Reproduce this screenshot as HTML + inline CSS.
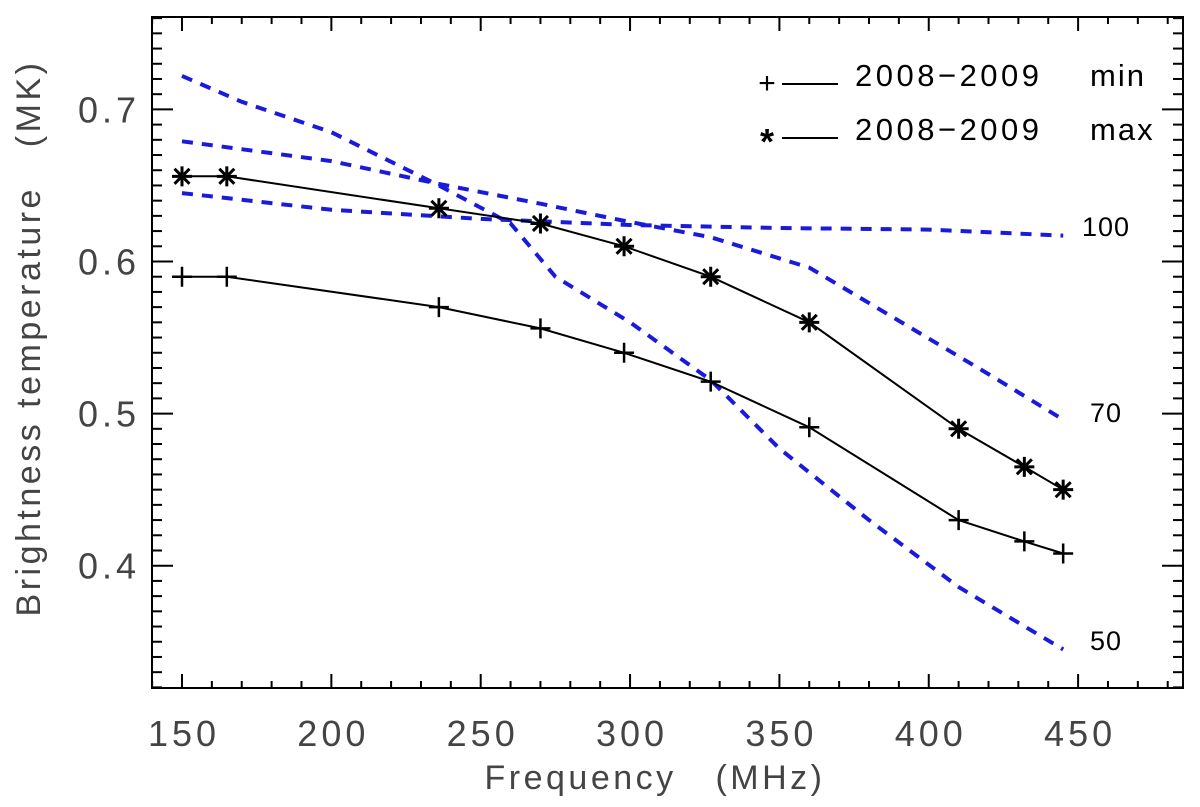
<!DOCTYPE html>
<html><head><meta charset="utf-8"><style>
body{margin:0;background:#fff}
svg{display:block}
</style></head><body>
<svg id="chart" width="1200" height="807" viewBox="0 0 1200 807" xmlns="http://www.w3.org/2000/svg" font-family="Liberation Sans, sans-serif">
<g id="axes"></g>
<g id="series"></g>
<g id="legend">
  <text x="767" y="93" font-size="30" text-anchor="middle">+</text>
  <line x1="782" y1="84" x2="838" y2="84" stroke="#000" stroke-width="2"/>
  <text x="855" y="86" font-size="31" letter-spacing="3.5">2008−2009</text>
  <text x="1090" y="86" font-size="31" letter-spacing="2">min</text>
  <text x="767" y="154" font-size="36" text-anchor="middle" font-weight="bold">*</text>
  <line x1="782" y1="138" x2="838" y2="138" stroke="#000" stroke-width="2"/>
  <text x="855" y="140" font-size="31" letter-spacing="3.5">2008−2009</text>
  <text x="1090" y="140" font-size="31" letter-spacing="2">max</text>
</g>
<text x="1082" y="236" font-size="27" letter-spacing="1">100</text>
<text x="1090" y="422" font-size="27" letter-spacing="1">70</text>
<text x="1090" y="650" font-size="27" letter-spacing="1">50</text>
<text x="655" y="789" font-size="34" text-anchor="middle" fill="#444" letter-spacing="3.5" xml:space="preserve">Frequency   (MHz)</text>
<text transform="translate(40,338) rotate(-90)" font-size="34" text-anchor="middle" fill="#444" letter-spacing="3.5" xml:space="preserve">Brightness temperature   (MK)</text>
</svg>
<script>
const freqs = [150,165,236,270,298,327,360,410,432,445];
const minVals = [0.590,0.590,0.570,0.556,0.540,0.521,0.491,0.430,0.416,0.408];
const maxVals = [0.656,0.656,0.635,0.625,0.610,0.590,0.560,0.490,0.465,0.450];
const c50F = [150,170,200,236,260,275,300,327,350,380,410,445];
const c50V = [0.722,0.705,0.685,0.650,0.625,0.590,0.560,0.522,0.477,0.430,0.386,0.345];
const c70F = [150,200,236,270,300,327,360,390,420,445];
const c70V = [0.679,0.666,0.651,0.638,0.626,0.616,0.596,0.561,0.526,0.496];
const c100F = [150,200,250,300,350,400,445];
const c100V = [0.645,0.634,0.628,0.624,0.622,0.621,0.617];
const xTicks = [150,200,250,300,350,400,450];
const yTicks = [0.4,0.5,0.6,0.7];

const NS='http://www.w3.org/2000/svg';
const L=152,R=1183,T=17,B=688;
function X(f){return 182+(f-150)*2.987;}
function Y(v){return 565.7-(v-0.4)*1521;}
function mk(tag,attrs,parent){const e=document.createElementNS(NS,tag);for(const k in attrs)e.setAttribute(k,attrs[k]);parent.appendChild(e);return e;}
const axes=document.getElementById('axes'), series=document.getElementById('series');

const frame=mk('rect',{x:L,y:T,width:R-L,height:B-T,fill:'none',stroke:'#000','stroke-width':2},axes);



for(let f=140;f<=480;f+=10){
  const x=X(f); if(x<L||x>R)continue;
  const major=(f%50===0);
  const len=major?14:7;
  const t1=mk('line',{x1:x,y1:B,x2:x,y2:B-len,stroke:'#000','stroke-width':2},axes);
  
  
  const t2=mk('line',{x1:x,y1:T,x2:x,y2:T+len,stroke:'#000','stroke-width':2},axes);
  
  
}
xTicks.forEach(f=>{
  const t=mk('text',{x:X(f)+2,y:746,'font-size':36,'text-anchor':'middle',fill:'#444','letter-spacing':4},axes);
  t.textContent=f;
  
  
});
for(let i=31;i<=76;i++){
  const v=i/100; const y=Y(v); if(y<T||y>B)continue;
  const major=(i%10===0);
  const len=major?21:10;
  const t1=mk('line',{x1:L,y1:y,x2:L+len,y2:y,stroke:'#000','stroke-width':2},axes);
  
  
  const t2=mk('line',{x1:R,y1:y,x2:R-len,y2:y,stroke:'#000','stroke-width':2},axes);
  
  
}
yTicks.forEach(v=>{
  const t=mk('text',{x:140,y:Y(v)+13,'font-size':36,'text-anchor':'end',fill:'#444','letter-spacing':4},axes);
  t.textContent=v.toFixed(1);
  
  
});

function pts(fs,vs){return fs.map((f,i)=>X(f).toFixed(1)+','+Y(vs[i]).toFixed(1)).join(' ');}
[[c50F,c50V,'model-curve-50'],[c70F,c70V,'model-curve-70'],[c100F,c100V,'model-curve-100']].forEach(([fs,vs,n])=>{
  const p=mk('polyline',{points:pts(fs,vs),fill:'none',stroke:'#1a1adc','stroke-width':4,'stroke-dasharray':'11 9'},series);
  
  
});
const lmin=mk('polyline',{points:pts(freqs,minVals),fill:'none',stroke:'#000','stroke-width':2},series);


const lmax=mk('polyline',{points:pts(freqs,maxVals),fill:'none',stroke:'#000','stroke-width':2},series);


freqs.forEach((f,i)=>{
  const x=X(f),y=Y(minVals[i]);
  const g=mk('path',{d:`M${x-10},${y}H${x+10}M${x},${y-10}V${y+10}`,stroke:'#000','stroke-width':2.5},series);
  
  
  const x2=X(f),y2=Y(maxVals[i]),r=10,d=7.5;
  const s=mk('path',{d:`M${x2-r},${y2}H${x2+r}M${x2-d},${y2-d}L${x2+d},${y2+d}M${x2-d},${y2+d}L${x2+d},${y2-d}M${x2},${y2-r}V${y2+r}`,stroke:'#000','stroke-width':3},series);
  
  
});
</script>
</body></html>
